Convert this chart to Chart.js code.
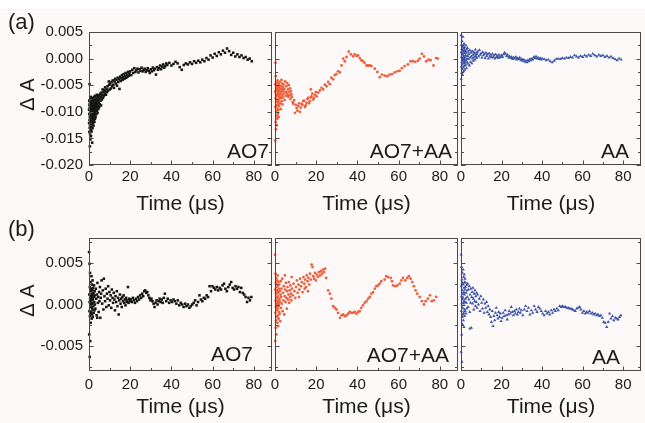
<!DOCTYPE html>
<html>
<head>
<meta charset="utf-8">
<script src="https://cdn.jsdelivr.net/npm/chart.js@4.4.1/dist/chart.umd.min.js"></script>
<style>
  html, body { margin: 0; padding: 0; background: #fcf9f8; }
  #wrap { position: relative; width: 645px; height: 423px; overflow: hidden; }
  #wrap canvas { position: absolute; left: 0; top: 0; }
  #strip { position: absolute; left: 0; top: 0; width: 645px; height: 9px; background: #fff; }
</style>
</head>
<body>
<div id="wrap">
  <div id="strip"></div>
  <canvas id="c0" width="645" height="423"></canvas>
  <canvas id="c1" width="645" height="423"></canvas>
  <canvas id="c2" width="645" height="423"></canvas>
  <canvas id="c3" width="645" height="423"></canvas>
  <canvas id="c4" width="645" height="423"></canvas>
  <canvas id="c5" width="645" height="423"></canvas>
</div>
<script>
// [time (us), delta A]

// (a) AO7
const ao7A = [
  [0.05,-0.0096],[0.08,-0.0121],[0.12,-0.0079],[0.15,-0.0138],[0.18,-0.0104],[0.22,-0.0087],[0.25,-0.0048],[0.28,-0.0115],[0.32,-0.0130],[0.35,-0.0092],
  [0.38,-0.0109],[0.42,-0.0165],[0.45,-0.0083],[0.48,-0.0124],[0.52,-0.0099],[0.55,-0.0143],[0.58,-0.0076],[0.62,-0.0112],[0.65,-0.0152],[0.68,-0.0094],
  [0.72,-0.0127],[0.75,-0.0081],[0.78,-0.0106],[0.82,-0.0134],[0.85,-0.0090],[0.88,-0.0118],[0.92,-0.0072],[0.95,-0.0101],[0.98,-0.0146],
  [1.02,-0.0085],[1.06,-0.0112],[1.1,-0.0128],[1.14,-0.0095],[1.18,-0.0074],[1.22,-0.0108],[1.26,-0.0137],[1.3,-0.0089],[1.34,-0.0118],[1.38,-0.0101],
  [1.42,-0.0079],[1.46,-0.0124],[1.5,-0.0093],[1.54,-0.0158],[1.58,-0.0110],[1.62,-0.0084],[1.66,-0.0099],[1.7,-0.0131],[1.74,-0.0077],[1.78,-0.0114],
  [1.82,-0.0092],[1.86,-0.0105],[1.9,-0.0121],[1.94,-0.0082],[1.98,-0.0097],
  [2.03,-0.0111],[2.08,-0.0075],[2.13,-0.0098],[2.18,-0.0126],[2.23,-0.0087],[2.28,-0.0104],[2.33,-0.0080],[2.38,-0.0116],[2.43,-0.0093],[2.48,-0.0072],
  [2.53,-0.0108],[2.58,-0.0089],[2.63,-0.0119],[2.68,-0.0096],[2.73,-0.0078],[2.78,-0.0102],[2.83,-0.0085],[2.88,-0.0113],[2.93,-0.0091],[2.98,-0.0070],
  [3.05,-0.0099],[3.12,-0.0083],[3.19,-0.0110],[3.26,-0.0076],[3.33,-0.0094],[3.4,-0.0087],[3.47,-0.0105],[3.54,-0.0071],[3.61,-0.0090],[3.68,-0.0081],
  [3.75,-0.0098],[3.82,-0.0068],[3.89,-0.0086],[3.96,-0.0093],[4.05,-0.0077],[4.15,-0.0102],[4.25,-0.0073],[4.35,-0.0089],[4.45,-0.0080],[4.55,-0.0095],
  [4.65,-0.0069],[4.75,-0.0084],[4.85,-0.0076],[4.95,-0.0091],
  [5.1,-0.0071],[5.25,-0.0086],[5.4,-0.0066],[5.55,-0.0079],[5.7,-0.0073],[5.85,-0.0088],[6.0,-0.0064],[6.2,-0.0077],[6.4,-0.0069],[6.6,-0.0058],
  [6.8,-0.0074],[7.0,-0.0063],[7.2,-0.0070],[7.4,-0.0059],[7.6,-0.0067],[7.8,-0.0054],[8.0,-0.0062],[8.25,-0.0068],[8.5,-0.0057],[8.75,-0.0063],
  [9.0,-0.0052],[9.25,-0.0060],[9.6,-0.0043],[9.75,-0.0049],[10.0,-0.0058],
  [10.3,-0.0048],[10.6,-0.0056],[10.9,-0.0044],[11.2,-0.0052],[11.5,-0.0041],[11.8,-0.0049],[12.1,-0.0055],[12.4,-0.0043],[12.7,-0.0038],[13.0,-0.0047],
  [13.3,-0.0040],[13.6,-0.0051],[13.9,-0.0036],[14.2,-0.0044],[14.5,-0.0039],[14.8,-0.0057],[15.1,-0.0034],[15.4,-0.0042],[15.7,-0.0037],[16.0,-0.0031],
  [16.3,-0.0040],[16.6,-0.0035],[16.9,-0.0029],[17.2,-0.0038],[17.5,-0.0033],[17.8,-0.0027],[18.1,-0.0036],[18.4,-0.0030],[18.7,-0.0034],[19.0,-0.0025],
  [19.3,-0.0032],[19.6,-0.0028],
  [20.0,-0.0024],[20.5,-0.0031],[21.0,-0.0021],[21.5,-0.0027],[22.0,-0.0018],[22.5,-0.0025],[23.0,-0.0022],[23.5,-0.0019],[24.0,-0.0026],[24.5,-0.0020],
  [25.0,-0.0023],[25.5,-0.0017],[26.0,-0.0024],[26.5,-0.0021],[27.0,-0.0019],[27.5,-0.0025],[28.0,-0.0022],[28.5,-0.0018],[29.0,-0.0023],[29.5,-0.0027],
  [30.0,-0.0020],[30.5,-0.0024],[31.0,-0.0017],[31.5,-0.0022],[32.0,-0.0019],[32.5,-0.0030],[33.0,-0.0016],[33.5,-0.0021],[34.0,-0.0018],[34.5,-0.0013],
  [35.0,-0.0020],[35.5,-0.0015],[36.0,-0.0011],[36.5,-0.0017],[37.0,-0.0014],[37.5,-0.0009],[38.0,-0.0012],[39.0,-0.0008],[40.0,-0.0013],
  [41,-0.0010],[42,-0.0006],[43,-0.0009],[44,-0.0016],[45,-0.0021],[46,-0.0012],[47,-0.0009],[48,-0.0011],[49,-0.0007],[50,-0.0010],
  [51,-0.0005],[52,-0.0008],[53,-0.0004],[54,-0.0007],[55,-0.0002],[56,-0.0005],[57,0.0001],[58,-0.0002],[59,0.0006],[60,0.0002],
  [61,0.0009],[62,0.0005],[63,0.0012],[64,0.0008],[65,0.0015],[66,0.0011],[67,0.0019],[68,0.0014],[69,0.0007],[70,0.0011],
  [71,0.0004],[72,0.0008],[73,0.0003],[74,0.0006],[75,0.0001],[76,0.0003],[77,-0.0002],[78,0.0000],[79,-0.0005]
];

// (a) AO7+AA
const ao7aaA = [
  [0.05,-0.0062],[0.1,-0.0154],[0.15,-0.0048],[0.2,-0.0091],[0.25,-0.0008],[0.3,-0.0075],[0.35,-0.0119],[0.4,-0.0033],[0.45,-0.0068],[0.5,-0.0133],
  [0.55,-0.0055],[0.6,-0.0099],[0.65,-0.0082],[0.7,-0.0125],[0.75,-0.0045],[0.8,-0.0071],[0.85,-0.0108],[0.9,-0.0060],[0.95,-0.0088],
  [1.05,-0.0052],[1.1,-0.0113],[1.15,-0.0066],[1.2,-0.0094],[1.25,-0.0041],[1.3,-0.0079],[1.35,-0.0104],[1.4,-0.0058],[1.45,-0.0086],[1.5,-0.0070],
  [1.55,-0.0047],[1.6,-0.0097],[1.65,-0.0063],[1.7,-0.0081],[1.75,-0.0054],[1.8,-0.0110],[1.85,-0.0068],[1.9,-0.0076],[1.95,-0.0050],
  [2.05,-0.0089],[2.15,-0.0061],[2.25,-0.0072],[2.35,-0.0044],[2.45,-0.0084],[2.55,-0.0057],[2.65,-0.0066],[2.75,-0.0095],[2.85,-0.0052],[2.95,-0.0074],
  [3.05,-0.0063],[3.15,-0.0040],[3.25,-0.0080],[3.35,-0.0058],[3.45,-0.0069],[3.55,-0.0047],[3.65,-0.0086],[3.75,-0.0061],[3.85,-0.0054],[3.95,-0.0073],
  [4.1,-0.0049],[4.3,-0.0066],[4.5,-0.0057],[4.7,-0.0078],[4.9,-0.0043],[5.1,-0.0062],[5.3,-0.0070],[5.5,-0.0052],[5.7,-0.0064],[5.9,-0.0046],
  [6.1,-0.0068],[6.3,-0.0058],[6.5,-0.0072],[6.7,-0.0050],[6.9,-0.0063],[7.1,-0.0069],[7.3,-0.0056],[7.5,-0.0076],[7.7,-0.0061],[7.9,-0.0067],
  [8.2,-0.0072],[8.6,-0.0082],[8.9,-0.0085],[9.3,-0.0078],[9.7,-0.0102],[10.1,-0.0087],[10.5,-0.0093],[10.9,-0.0098],[11.3,-0.0089],[11.7,-0.0084],
  [12.1,-0.0100],[12.5,-0.0092],[12.9,-0.0085],[13.3,-0.0087],[13.7,-0.0080],[14.1,-0.0079],[14.5,-0.0091],[14.9,-0.0088],[15.3,-0.0083],[15.7,-0.0076],
  [16.1,-0.0074],[16.5,-0.0084],[16.9,-0.0080],[17.3,-0.0073],[17.4,-0.0058],[17.7,-0.0071],[18.1,-0.0066],[18.5,-0.0077],[18.9,-0.0074],[19.4,-0.0068],
  [19.8,-0.0063],[20.2,-0.0071],
  [21.0,-0.0064],[21.8,-0.0060],[22.6,-0.0055],[23.4,-0.0058],[24.2,-0.0049],[25.0,-0.0052],[25.8,-0.0044],[26.6,-0.0048],[27.4,-0.0036],[28.2,-0.0039],
  [29.0,-0.0031],[29.8,-0.0029],[30.6,-0.0024],[31.5,-0.0026],[32.3,-0.0013],[33.1,0.0000],[33.9,-0.0005],[34.7,0.0003],[35.8,0.0013],[36.8,0.0008],
  [37.9,0.0004],[38.7,0.0008],[39.5,0.0005],[40.3,0.0006],[41.1,0.0001],[41.9,-0.0003],[42.7,-0.0005],
  [43.5,-0.0008],[44.4,-0.0013],[45.2,-0.0013],[46.0,-0.0013],[46.8,-0.0014],[48.4,-0.0019],[49.7,-0.0025],[50.8,-0.0035],[51.9,-0.0030],[53.2,-0.0032],
  [54.5,-0.0033],[55.6,-0.0030],[56.8,-0.0029],[58.1,-0.0026],[59.4,-0.0024],[60.5,-0.0023],[61.6,-0.0018],[62.9,-0.0014],[64.5,-0.0011],[65.8,-0.0005],
  [66.9,-0.0005],[68.1,-0.0006],[69.4,-0.0004],[70.2,0.0000],[71.3,0.0009],[72.3,0.0004],[73.4,-0.0005],[74.5,-0.0002],[75.5,-0.0003],[76.9,-0.0013],
  [78.2,0.0001],[79.0,0.0000]
];

// (a) AA
const aaA = [
  [0.05,0.0044],[0.1,-0.0038],[0.15,0.0012],[0.2,-0.0015],[0.25,0.0026],[0.3,0.0003],[0.35,-0.0027],[0.4,0.0018],[0.45,-0.0006],[0.5,0.0033],
  [0.55,-0.0020],[0.6,0.0009],[0.65,-0.0011],[0.7,0.0022],[0.75,0.0000],[0.8,-0.0031],[0.85,0.0015],[0.9,-0.0004],[0.95,0.0041],
  [1.05,0.0007],[1.1,-0.0017],[1.15,0.0024],[1.2,-0.0002],[1.25,0.0013],[1.3,-0.0024],[1.35,0.0019],[1.4,0.0004],[1.45,-0.0009],[1.5,0.0028],
  [1.55,0.0001],[1.6,-0.0014],[1.65,0.0016],[1.7,-0.0005],[1.75,0.0010],[1.8,-0.0021],[1.85,0.0021],[1.9,0.0003],[1.95,-0.0008],
  [2.1,0.0014],[2.2,-0.0012],[2.3,0.0006],[2.4,0.0025],[2.5,-0.0003],[2.6,0.0011],[2.7,-0.0018],[2.8,0.0017],[2.9,0.0000],[3.0,-0.0007],
  [3.15,0.0020],[3.3,0.0005],[3.45,-0.0010],[3.6,0.0013],[3.75,-0.0001],[3.9,0.0008],
  [4.1,-0.0013],[4.3,0.0016],[4.5,0.0002],[4.7,-0.0006],[4.9,0.0011],[5.1,0.0004],[5.3,-0.0009],[5.5,0.0014],[5.7,0.0000],[5.9,0.0007],
  [6.1,-0.0004],[6.3,0.0012],[6.5,0.0003],[6.7,0.0009],[6.9,-0.0002],[7.1,0.0017],[7.3,0.0005],[7.5,0.0011],[7.7,0.0001],[7.9,0.0008],
  [8.3,0.0013],[8.7,0.0004],[9.1,0.0016],[9.5,0.0007],[9.9,0.0010],[10.3,0.0002],[10.7,0.0012],[11.1,0.0006],[11.5,0.0009],[11.9,0.0001],
  [12.3,0.0011],[12.7,0.0005],[13.1,0.0008],[13.5,0.0000],[13.9,0.0010],[14.3,0.0004],[14.7,0.0007],[15.1,0.0002],[15.5,0.0009],[15.9,0.0003],
  [16.3,0.0006],[16.7,0.0000],[17.1,0.0008],[17.5,0.0003],[17.9,0.0005],[18.3,0.0001],[18.7,0.0007],[19.1,0.0002],[19.5,0.0004],
  [20,0.0006],[20.5,0.0003],[21,0.0008],[21.5,0.0011],[22,0.0009],[22.5,0.0005],[23,0.0007],[23.5,0.0002],[24,0.0004],[24.5,0.0001],
  [25,0.0003],[25.5,-0.0001],[26,0.0002],[26.5,0.0000],[27,0.0003],[27.5,-0.0002],[28,0.0001],[28.5,-0.0001],[29,0.0002],[29.5,-0.0003],
  [30,-0.0001],[30.5,-0.0004],[31,-0.0002],[31.5,-0.0006],[32,-0.0004],[32.5,-0.0007],[33,-0.0003],[33.5,-0.0005],[34,-0.0001],[34.5,-0.0003],
  [35,0.0000],[35.5,-0.0002],[36,0.0003],[36.5,0.0001],[37,0.0004],[37.5,0.0000],[38,0.0002],[38.5,-0.0001],[39,0.0001],[39.5,-0.0002],[40,0.0000],
  [41,-0.0001],[42,-0.0003],[43,-0.0002],[44,-0.0005],[45,-0.0007],[46,-0.0004],[47,-0.0001],[48,0.0000],[49,-0.0001],[50,0.0001],
  [51,0.0000],[52,0.0002],[53,0.0001],[54,0.0003],[55,0.0002],[56,0.0006],[57,0.0004],[58,0.0002],[59,0.0005],[60,0.0003],
  [61,0.0006],[62,0.0004],[63,0.0007],[64,0.0005],[65,0.0009],[66,0.0006],[67,0.0004],[68,0.0007],[69,0.0005],[70,0.0006],
  [71,0.0003],[72,0.0005],[73,0.0002],[74,0.0004],[75,0.0001],[76,-0.0001],[77,-0.0003],[78,0.0000],[79,-0.0002]
];

// (b) AO7
const ao7B = [
  [0.05,0.0063],[0.1,-0.0036],[0.15,0.0012],[0.2,-0.0008],[0.25,0.0049],[0.3,0.0003],[0.35,-0.0063],[0.4,0.0021],[0.45,-0.0014],[0.5,0.0038],
  [0.55,0.0007],[0.6,-0.0044],[0.65,0.0016],[0.7,-0.0003],[0.75,0.0027],[0.8,-0.0022],[0.85,0.0010],[0.9,0.0000],[0.95,-0.0011],
  [1.05,0.0019],[1.1,0.0005],[1.15,-0.0009],[1.2,0.0034],[1.25,0.0002],[1.3,-0.0017],[1.35,0.0013],[1.4,-0.0004],[1.45,0.0024],[1.5,0.0008],
  [1.55,-0.0012],[1.6,0.0017],[1.65,0.0001],[1.7,-0.0006],[1.75,0.0029],[1.8,0.0011],[1.85,-0.0015],[1.9,0.0006],[1.95,0.0020],
  [2.05,-0.0002],[2.15,0.0014],[2.25,-0.0010],[2.35,0.0009],[2.45,0.0023],[2.55,0.0003],[2.65,-0.0007],[2.75,0.0016],[2.85,0.0000],[2.95,0.0011],
  [3.1,-0.0005],[3.3,0.0019],[3.5,0.0007],[3.7,-0.0013],[3.9,0.0012],[4.0,-0.0016],[4.1,0.0026],[4.3,0.0002],[4.5,0.0009],[4.7,-0.0009],
  [4.9,0.0015],[5.1,0.0004],[5.3,0.0021],[5.5,-0.0016],[5.7,0.0008],[5.9,0.0013],
  [6.1,0.0029],[6.4,0.0001],[6.7,0.0017],[7.0,-0.0006],[7.2,0.0031],[7.5,0.0010],[7.8,0.0004],[8.1,0.0019],[8.4,-0.0003],[8.7,0.0013],
  [9.0,0.0007],[9.3,0.0022],[9.6,-0.0001],[9.9,0.0015],[10.2,0.0005],[10.5,0.0011],[10.8,-0.0004],[11.1,0.0018],[11.4,0.0008],[11.7,0.0002],
  [12.0,0.0014],[12.3,0.0006],[12.6,-0.0007],[12.9,0.0010],[13.2,0.0003],[13.5,0.0016],[13.8,-0.0002],[14.1,0.0008],[14.4,-0.0012],[14.7,0.0005],
  [15.0,0.0012],[15.3,0.0001],[15.6,0.0007],[15.9,-0.0003],[16.2,0.0009],[16.5,0.0004],[16.8,0.0011],[17.1,0.0002],[17.4,0.0006],[17.7,-0.0001],
  [18.0,0.0008],[18.3,0.0003],[18.6,0.0005],[18.9,0.0021],[19.2,0.0002],[19.5,0.0007],[19.8,0.0004],
  [20.3,0.0006],[20.8,0.0003],[21.3,0.0008],[21.8,0.0005],[22.3,0.0002],[22.8,0.0007],[23.3,0.0004],[23.8,0.0009],[24.3,0.0006],[24.8,0.0011],
  [25.3,0.0008],[25.8,0.0013],[26.3,0.0010],[26.8,0.0016],[27.3,0.0017],[27.8,0.0014],[28.3,0.0015],[28.8,0.0011],[29.3,0.0008],[29.8,0.0005],
  [30.3,0.0007],[30.8,0.0004],[31.3,0.0001],[31.8,-0.0003],[32.3,0.0002],[32.8,0.0005],[33.3,0.0000],[33.8,0.0004],[34.3,0.0007],[34.8,0.0003],
  [35.3,0.0006],[35.8,0.0002],[36.3,0.0008],[36.8,0.0013],[37.5,0.0004],[38.2,0.0007],[38.9,0.0002],[39.6,0.0005],[40.3,0.0003],[41.0,0.0006],
  [41.7,0.0004],[42.4,0.0001],[43.1,0.0005],[43.8,-0.0001],[44.5,0.0002],[45.2,0.0000],[45.9,-0.0003],[46.6,0.0001],[47.3,-0.0002],[48.0,0.0000],
  [48.7,-0.0004],[49.4,-0.0002],
  [50.1,0.0000],[50.8,0.0002],[51.5,0.0005],[52.2,-0.0001],[52.9,0.0003],[53.6,0.0011],[54.3,0.0006],[55.0,0.0004],[55.7,0.0008],[56.4,0.0007],
  [57.1,0.0011],[57.8,0.0009],[58.5,0.0022],[59.2,0.0016],[59.9,0.0022],[60.6,0.0020],[61.3,0.0018],[62.0,0.0021],[62.7,0.0017],[63.4,0.0020],
  [64.1,0.0018],[64.8,0.0023],[65.5,0.0025],[66.2,0.0019],[66.9,0.0016],[67.6,0.0021],[68.3,0.0024],[69.0,0.0027],[69.7,0.0020],[70.4,0.0018],
  [71.1,0.0022],[71.8,0.0019],[72.5,0.0021],[73.2,0.0015],[73.9,0.0020],[74.6,0.0014],[75.3,0.0012],[76.0,0.0009],[76.7,0.0003],[77.4,0.0008],
  [78.1,0.0005],[78.8,0.0009]
];

// (b) AO7+AA
const ao7aaB = [
  [0.05,0.0060],[0.1,-0.0044],[0.15,0.0018],[0.2,-0.0010],[0.25,0.0037],[0.3,0.0005],[0.35,-0.0028],[0.4,0.0026],[0.45,-0.0003],[0.5,0.0013],
  [0.55,-0.0019],[0.6,0.0032],[0.65,0.0008],[0.7,-0.0036],[0.75,0.0021],[0.8,-0.0007],[0.85,0.0015],[0.9,0.0001],[0.95,-0.0015],
  [1.05,0.0029],[1.1,0.0004],[1.15,-0.0022],[1.2,0.0017],[1.25,-0.0005],[1.3,0.0035],[1.35,0.0010],[1.4,-0.0013],[1.45,0.0023],[1.5,0.0002],
  [1.55,-0.0026],[1.6,0.0014],[1.65,-0.0002],[1.7,0.0027],[1.75,0.0007],[1.8,-0.0017],[1.85,0.0019],[1.9,0.0000],[1.95,-0.0009],
  [2.05,0.0024],[2.15,0.0006],[2.25,-0.0011],[2.35,0.0016],[2.45,0.0003],[2.55,-0.0020],[2.65,0.0012],[2.75,0.0028],[2.85,-0.0004],[2.95,0.0009],
  [3.1,0.0019],[3.3,0.0001],[3.5,0.0031],[3.7,-0.0008],[3.9,0.0014],[4.1,0.0005],[4.3,0.0022],[4.5,-0.0012],[4.7,0.0010],[4.8,0.0035],
  [4.9,0.0018],[5.1,0.0003],[5.3,0.0026],[5.5,0.0008],[5.7,-0.0005],[5.9,0.0016],[6.1,0.0021],[6.3,0.0006],[6.5,0.0012],[6.7,0.0027],
  [6.9,0.0002],[7.1,0.0017],[7.3,0.0009],[7.5,0.0023],[7.7,0.0013],[7.9,0.0005],[8.1,0.0033],
  [8.2,0.0019],[8.6,0.0011],[9.0,0.0025],[9.4,0.0016],[9.8,0.0008],[10.2,0.0021],[10.6,0.0029],[11.0,0.0014],[11.4,0.0024],[11.6,0.0009],
  [11.8,0.0018],[12.2,0.0031],[12.6,0.0022],[13.0,0.0027],[13.4,0.0015],[13.8,0.0033],[14.2,0.0025],[14.4,0.0019],[14.6,0.0030],[15.0,0.0021],
  [15.4,0.0035],[15.8,0.0028],[16.0,0.0016],[16.2,0.0032],[16.6,0.0024],[17.0,0.0037],[17.4,0.0030],[17.8,0.0048],[18.2,0.0045],[18.6,0.0034],
  [19.0,0.0031],[19.4,0.0038],[19.8,0.0029],[20.3,0.0036],[20.8,0.0033],[21.3,0.0039],[21.8,0.0035],[22.3,0.0040],[22.8,0.0037],[23.3,0.0042],
  [23.8,0.0039],[24.3,0.0043],[24.8,0.0032],
  [25.8,0.0017],[26.6,0.0013],[27.4,0.0007],[28.2,-0.0002],[29.0,-0.0004],[29.8,-0.0006],[30.6,-0.0010],[31.5,-0.0016],[32.3,-0.0013],[33.1,-0.0012],
  [33.9,-0.0014],[34.7,-0.0013],[35.5,-0.0011],[36.3,-0.0009],[37.1,-0.0010],[37.9,-0.0010],[38.7,-0.0009],[39.5,-0.0011],[40.3,-0.0009],[41.1,-0.0008],
  [41.9,-0.0004],[42.7,-0.0001],[43.5,0.0002],[44.4,0.0004],[45.2,0.0007],[46.0,0.0009],[46.8,0.0013],[47.6,0.0015],[48.4,0.0019],[49.2,0.0022],
  [50.0,0.0023],[50.8,0.0025],[51.6,0.0028],[53.2,0.0030],[54.0,0.0034],[54.8,0.0033],[56.1,0.0032],[56.8,0.0028],[57.3,0.0023],[58.4,0.0022],
  [59.4,0.0023],[60.5,0.0025],[61.3,0.0029],[62.1,0.0032],[63.2,0.0029],[64.2,0.0032],[65.0,0.0034],[65.8,0.0031],[66.6,0.0027],[67.4,0.0022],
  [68.2,0.0017],[69.0,0.0013],[70.2,0.0009],[71.3,0.0004],[72.3,0.0000],[73.1,0.0004],[74.2,0.0007],[75.2,0.0011],[76.1,0.0004],[77.1,0.0005],
  [78.2,0.0009]
];

// (b) AA
const aaB = [
  [0.05,0.0060],[0.1,-0.0057],[0.15,0.0022],[0.2,-0.0008],[0.25,0.0045],[0.3,0.0010],[0.35,-0.0036],[0.4,0.0030],[0.45,0.0002],[0.5,-0.0069],
  [0.55,0.0017],[0.6,-0.0015],[0.65,0.0038],[0.7,0.0006],[0.75,-0.0024],[0.8,0.0026],[0.85,-0.0004],[0.9,0.0013],[0.95,-0.0012],
  [1.05,0.0042],[1.1,0.0008],[1.15,-0.0019],[1.2,0.0024],[1.25,0.0001],[1.3,0.0033],[1.35,-0.0010],[1.4,0.0015],[1.45,-0.0027],[1.5,0.0020],
  [1.55,0.0004],[1.6,0.0036],[1.65,-0.0006],[1.7,0.0012],[1.75,0.0027],[1.8,-0.0014],[1.85,0.0018],[1.9,0.0003],[1.95,0.0031],
  [2.05,-0.0008],[2.15,0.0021],[2.25,0.0007],[2.35,0.0026],[2.45,-0.0011],[2.55,0.0014],[2.65,0.0002],[2.75,0.0023],[2.85,-0.0005],[2.95,0.0017],
  [3.1,0.0009],[3.3,0.0025],[3.5,-0.0003],[3.7,0.0018],[3.9,0.0006],[4.1,0.0022],[4.3,-0.0009],[4.4,-0.0029],[4.5,0.0012],[4.7,0.0002],
  [4.9,0.0019],[5.1,-0.0028],[5.3,0.0009],[5.5,0.0015],[5.7,0.0001],[5.9,0.0020],[6.1,0.0007],[6.3,-0.0006],[6.5,0.0013],[6.7,0.0004],
  [6.9,0.0017],[7.1,-0.0002],[7.3,0.0010],[7.5,0.0003],[7.7,0.0014],[7.9,-0.0004],
  [8.2,0.0012],[8.6,0.0000],[9.0,0.0007],[9.4,-0.0008],[9.8,0.0010],[10.2,0.0002],[10.6,-0.0005],[11.0,0.0006],[11.4,-0.0010],[11.8,0.0001],
  [12.2,-0.0004],[12.6,0.0003],[13.0,-0.0009],[13.4,-0.0002],[13.8,-0.0012],[14.2,-0.0006],[14.6,-0.0015],[15.0,-0.0021],[15.4,-0.0008],[15.8,-0.0026],
  [16.2,-0.0014],[16.6,-0.0019],[17.0,-0.0010],[17.4,-0.0004],[17.8,-0.0013],[18.2,-0.0017],[18.6,-0.0009],[19.0,-0.0015],[19.4,-0.0011],[19.8,-0.0020],
  [20.3,-0.0016],[20.8,-0.0010],[21.3,-0.0014],[21.8,-0.0007],[22.3,-0.0013],[22.8,-0.0018],[23.3,-0.0012],[23.8,-0.0008],[24.3,-0.0011],[24.8,-0.0003],
  [25.3,-0.0009],[25.8,-0.0013],[26.3,-0.0008],[26.8,-0.0011],[27.3,-0.0006],[27.8,-0.0012],[28.3,-0.0009],[28.8,-0.0005],[29.3,-0.0010],[29.8,-0.0007],
  [30.5,-0.0013],[31.2,-0.0006],[31.9,-0.0002],[32.6,-0.0008],[33.3,-0.0004],[34.0,-0.0012],[34.7,-0.0007],[35.4,-0.0010],[36.1,-0.0002],[36.8,-0.0006],
  [37.5,-0.0009],[38.2,-0.0003],[38.9,-0.0005],[39.6,-0.0008],
  [40.3,-0.0011],[41.0,-0.0013],[41.7,-0.0008],[42.4,-0.0011],[43.1,-0.0009],[43.8,-0.0012],[44.5,-0.0007],[45.2,-0.0010],[45.9,-0.0006],[46.6,-0.0008],
  [47.3,-0.0005],[48.0,-0.0007],[48.7,-0.0002],[49.4,-0.0003],[50.1,-0.0002],[50.8,-0.0003],[51.5,-0.0003],[52.2,-0.0004],[52.9,-0.0004],[53.6,-0.0005],
  [54.3,-0.0005],[55.0,-0.0006],[55.7,-0.0007],[56.4,-0.0008],[57.1,-0.0005],[57.8,-0.0004],[58.5,-0.0003],[59.2,-0.0006],[59.9,-0.0010],[60.6,-0.0008],
  [61.3,-0.0011],[62.0,-0.0009],[62.7,-0.0010],[63.4,-0.0008],[64.1,-0.0011],[64.8,-0.0010],[65.5,-0.0012],[66.2,-0.0011],[66.9,-0.0013],[67.6,-0.0012],
  [68.3,-0.0014],[69.0,-0.0013],[69.7,-0.0016],[70.4,-0.0021],[71.1,-0.0022],[71.9,-0.0027],[72.6,-0.0021],[73.3,-0.0011],[74.0,-0.0017],[74.7,-0.0014],
  [75.4,-0.0019],[76.1,-0.0016],[76.8,-0.0017],[77.5,-0.0018],[78.2,-0.0015],[78.9,-0.0013]
];

// axes
const timeTicks = [0, 20, 40, 60, 80];
const timeMinor = [10, 30, 50, 70];
const rowATicks = [0.005, 0.000, -0.005, -0.010, -0.015, -0.020];
const rowAMinor = [0.0025, -0.0025, -0.0075, -0.0125, -0.0175];
const rowBTicks = [0.005, 0.000, -0.005];
const rowBMinor = [0.0075, 0.0025, -0.0025, -0.0075];

const FONT = '"Liberation Sans", Arial, Helvetica, sans-serif';
const INK = '#1b1b1b';
const AXIS = '#4a4a4a';

const colLeft = [89, 275, 461];
const plotW = 183;
const rowTop = [32, 238];
const plotH = 133;
const rows = [
  { min: -0.020, max: 0.005, ticks: rowATicks, minor: rowAMinor, xH: 52, tickPad: 3, tag: '(a)', tagY: 29 },
  { min: -0.008, max: 0.008, ticks: rowBTicks, minor: rowBMinor, xH: 49, tickPad: 5, tag: '(b)', tagY: 236 }
];

const panels = [
  { id: 'c0', row: 0, col: 0, data: ao7A,   color: '#151515', shape: 'rect',     r: 1.8, label: 'AO7',    lx: 3,  ly: 7 },
  { id: 'c1', row: 0, col: 1, data: ao7aaA, color: '#ef5f3c', shape: 'circle',   r: 1.4, label: 'AO7+AA', lx: 6,  ly: 7 },
  { id: 'c2', row: 0, col: 2, data: aaA,    color: '#3d55a6', shape: 'triangle', r: 1.9, label: 'AA',     lx: 12, ly: 7 },
  { id: 'c3', row: 1, col: 0, data: ao7B,   color: '#151515', shape: 'rect',     r: 1.8, label: 'AO7',    lx: 19, ly: 10 },
  { id: 'c4', row: 1, col: 1, data: ao7aaB, color: '#ef5f3c', shape: 'circle',   r: 1.4, label: 'AO7+AA', lx: 9,  ly: 9 },
  { id: 'c5', row: 1, col: 2, data: aaB,    color: '#3d55a6', shape: 'triangle', r: 1.9, label: 'AA',     lx: 21, ly: 7 }
];

// box, inward ticks and panel texts
const framePlugin = {
  id: 'frame',
  afterDatasetsDraw(chart, args, o) {
    const { ctx, chartArea: a } = chart;
    const x = chart.scales.x, y = chart.scales.y;
    const row = rows[o.row];
    ctx.save();
    ctx.strokeStyle = AXIS;
    ctx.lineWidth = 1;
    ctx.strokeRect(a.left + 0.5, a.top + 0.5, a.width - 1, a.height - 1);
    ctx.beginPath();
    const xt = (v, len) => {
      const px = Math.round(x.getPixelForValue(v)) + 0.5;
      ctx.moveTo(px, a.bottom); ctx.lineTo(px, a.bottom - len);
    };
    const yt = (v, len) => {
      const py = Math.round(y.getPixelForValue(v)) + 0.5;
      ctx.moveTo(a.left, py); ctx.lineTo(a.left + len, py);
      ctx.moveTo(a.right, py); ctx.lineTo(a.right - len, py);
    };
    timeTicks.forEach(v => xt(v, 4.5));
    timeMinor.forEach(v => xt(v, 3));
    row.ticks.forEach(v => yt(v, 4.5));
    row.minor.forEach(v => yt(v, 3));
    ctx.stroke();

    ctx.fillStyle = INK;
    ctx.font = '21px ' + FONT;
    ctx.textAlign = 'right';
    ctx.textBaseline = 'alphabetic';
    ctx.fillText(o.label, a.right - o.lx, a.bottom - o.ly);

    if (o.col === 0) {
      ctx.font = '22px ' + FONT;
      ctx.textAlign = 'left';
      ctx.fillText(row.tag, 8, row.tagY);
      ctx.save();
      ctx.translate(28, (a.top + a.bottom) / 2 - 4);
      ctx.rotate(-Math.PI / 2);
      ctx.textAlign = 'center';
      ctx.textBaseline = 'middle';
      ctx.font = '20px ' + FONT;
      ctx.fillText('\u0394 A', 0, 0);
      ctx.restore();
    }
    ctx.restore();
  }
};

panels.forEach(p => {
  const row = rows[p.row];
  const left = colLeft[p.col];
  new Chart(document.getElementById(p.id), {
    type: 'scatter',
    data: {
      datasets: [{
        data: p.data.map(d => ({ x: d[0], y: d[1] })),
        pointStyle: p.shape,
        pointRadius: p.r,
        backgroundColor: p.color,
        borderColor: p.color,
        borderWidth: 0,
        clip: 4
      }]
    },
    options: {
      responsive: false,
      animation: false,
      events: [],
      layout: {
        padding: {
          left: p.col === 0 ? 0 : left,
          right: 645 - left - plotW,
          top: rowTop[p.row],
          bottom: 423 - rowTop[p.row] - plotH - row.xH
        }
      },
      plugins: {
        legend: { display: false },
        tooltip: { enabled: false },
        frame: { row: p.row, col: p.col, label: p.label, lx: p.lx, ly: p.ly }
      },
      scales: {
        x: {
          type: 'linear',
          min: 0,
          max: 88.8,
          afterBuildTicks: s => { s.ticks = timeTicks.map(v => ({ value: v })); },
          afterFit: s => { s.height = row.xH; },
          grid: { display: false, drawTicks: false },
          border: { display: false },
          ticks: { color: INK, font: { family: FONT, size: 15 }, padding: row.tickPad, maxRotation: 0, autoSkip: false },
          title: { display: true, text: 'Time (\u03bcs)', color: INK, font: { family: FONT, size: 21 }, padding: 0 }
        },
        y: {
          type: 'linear',
          display: p.col === 0,
          min: row.min,
          max: row.max,
          afterBuildTicks: s => { s.ticks = row.ticks.map(v => ({ value: v })); },
          afterFit: s => { s.width = p.col === 0 ? colLeft[0] : 0; },
          grid: { display: false, drawTicks: false },
          border: { display: false },
          ticks: { color: INK, font: { family: FONT, size: 15 }, padding: 6, callback: v => v.toFixed(3) }
        }
      }
    },
    plugins: [framePlugin]
  });
});
</script>
</body>
</html>
